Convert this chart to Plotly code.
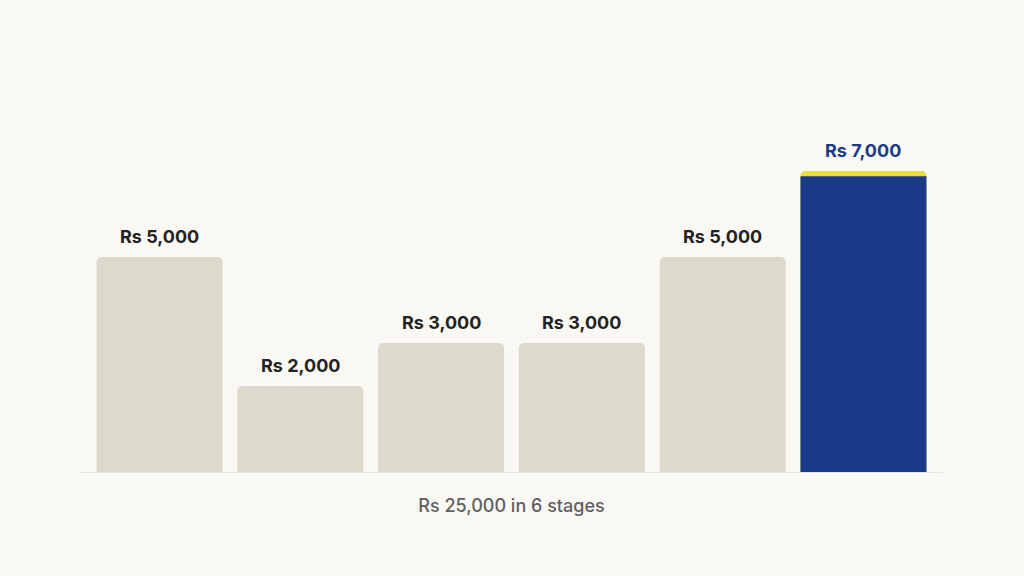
import plotly.graph_objects as go

stages = ["Stage 1", "Stage 2", "Stage 3", "Stage 4", "Stage 5", "Stage 6"]
amounts = [5000, 2000, 3000, 3000, 5000, 7000]
labels = ["Rs 5,000", "Rs 2,000", "Rs 3,000", "Rs 3,000", "Rs 5,000", "Rs 7,000"]
axis_title = "Rs 25,000 in 6 stages"

highlight = len(amounts) - 1
stripe = 120  # thickness of the yellow cap, in data units (style)

grey = "#DDD9CD"
blue = "#1B3A88"
yellow = "#E9DD3E"
bg = "#F9F8F3"

fig = go.Figure()

fig.add_trace(go.Bar(
    x=stages[:highlight], y=amounts[:highlight],
    marker=dict(color=grey, line=dict(width=0)),
    width=0.895, hoverinfo="skip",
))
fig.add_trace(go.Bar(
    x=[stages[highlight]], y=[amounts[highlight]],
    marker=dict(color=yellow, line=dict(width=0)),
    width=0.895, hoverinfo="skip",
))
fig.add_trace(go.Bar(
    x=[stages[highlight]], y=[amounts[highlight] - stripe],
    marker=dict(color=blue, line=dict(width=0)),
    width=0.895, hoverinfo="skip",
))

for i, (s, v, t) in enumerate(zip(stages, amounts, labels)):
    fig.add_annotation(
        x=s, y=v, text=t, showarrow=False, yanchor="bottom", yshift=8,
        font=dict(family="Inter, 'Noto Sans', sans-serif", size=18, weight=700,
                  color=blue if i == highlight else "#232323"),
    )

fig.update_layout(
    width=1024, height=576,
    paper_bgcolor=bg, plot_bgcolor=bg,
    barmode="overlay", barcornerradius=5,
    showlegend=False,
    margin=dict(l=80, r=81, t=85, b=104),
    xaxis=dict(
        categoryorder="array", categoryarray=stages,
        range=[-0.565, 5.565], showticklabels=False, ticks="",
        showgrid=False, zeroline=False,
        showline=True, linecolor="#E8E5DC", linewidth=1,
        title=dict(text=axis_title, standoff=27,
                   font=dict(family="Inter, 'Noto Sans', sans-serif", size=18,
                             weight=500, color="#5f5f5f")),
    ),
    yaxis=dict(range=[0, 9000], visible=False, showgrid=False, zeroline=False),
)

fig.write_html(
    "out.html",
    config={"displayModeBar": False, "staticPlot": True},
    post_script="document.body.style.margin='0';document.body.style.background='#F9F8F3';",
)
